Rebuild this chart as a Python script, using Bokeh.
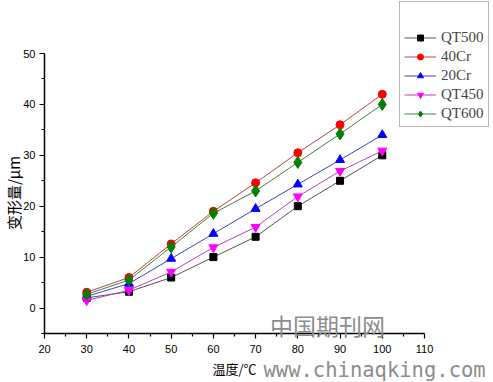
from math import pi
from bokeh.plotting import figure
from bokeh.models import Range1d, FixedTicker, Legend, LegendItem, Label
from bokeh.embed import file_html
from bokeh.resources import INLINE

# ---- data ----
temperature = [30, 40, 50, 60, 70, 80, 90, 100]
qt500 = [2.0, 3.2, 6.0, 10.0, 14.0, 20.0, 25.0, 30.0]
cr40 = [3.1, 6.0, 12.6, 19.0, 24.6, 30.5, 36.0, 42.0]
cr20 = [2.3, 4.8, 9.7, 14.6, 19.5, 24.3, 29.1, 34.0]
qt450 = [1.5, 3.5, 7.1, 11.9, 15.9, 21.9, 26.9, 30.9]
qt600 = [2.7, 5.5, 12.0, 18.6, 23.0, 28.6, 34.2, 40.0]
series_names = ["QT500", "40Cr", "20Cr", "QT450", "QT600"]
x_ticks = [20, 30, 40, 50, 60, 70, 80, 90, 100, 110]
x_minor = [25, 35, 45, 55, 65, 75, 85, 95, 105]
y_ticks = [0, 10, 20, 30, 40, 50]
y_minor = [-5, 5, 15, 25, 35, 45]
x_title = "温度/℃"
y_title = "变形量/μm"

# ---- layout (pixels) ----
W, H = 493, 382
AX_LEFT_PX, AX_TOP_PX = 44, 53          # where x=20 / y=50 sit in the figure
AX_W_PX, AX_H_PX = 380, 280             # axis box size
X0, X1, Y0, Y1 = 20, 110, -5, 50
sx = AX_W_PX / (X1 - X0)
sy = AX_H_PX / (Y1 - Y0)
x_start = X0 - AX_LEFT_PX / sx
x_end = X0 + (W - AX_LEFT_PX) / sx
y_end = Y1 + AX_TOP_PX / sy
y_start = Y1 - (H - AX_TOP_PX) / sy

def px_x(px):   # figure pixel -> data x
    return X0 + (px - AX_LEFT_PX) / sx

def px_y(py):   # figure pixel (from top) -> data y
    return Y1 - (py - AX_TOP_PX) / sy

p = figure(width=W, height=H, min_border=0,
           x_range=Range1d(x_start, x_end), y_range=Range1d(y_start, y_end),
           output_backend="svg", toolbar_location=None)
p.outline_line_color = None
p.xgrid.visible = False
p.ygrid.visible = False
p.background_fill_color = "white"
p.border_fill_color = "white"

p.xaxis.fixed_location = Y0
p.yaxis.fixed_location = X0
p.xaxis.bounds = (X0, X1)
p.yaxis.bounds = (Y0, Y1)

for ax, ticks, minor in ((p.xaxis[0], x_ticks, x_minor), (p.yaxis[0], y_ticks, y_minor)):
    ax.ticker = FixedTicker(ticks=ticks, minor_ticks=minor)
    ax.axis_line_width = 1.5
    ax.axis_line_color = "black"
    ax.major_tick_line_color = "black"
    ax.minor_tick_line_color = "black"
    ax.major_tick_line_width = 1.2
    ax.minor_tick_line_width = 1.2
    ax.major_tick_out = 5
    ax.major_tick_in = 0
    ax.minor_tick_out = 3
    ax.minor_tick_in = 0
    ax.major_label_text_font = "Liberation Sans"
    ax.major_label_text_font_size = "11px"
    ax.major_label_text_color = "black"
p.xaxis.major_label_standoff = 6
p.yaxis.major_label_standoff = 4

styles = [
    (qt500, "black", "#555555", "square", 7),
    (cr40, "red", "#c04040", "circle", 8),
    (cr20, "blue", "#4040d0", "triangle", 9),
    (qt450, "magenta", "#c040c0", "inverted_triangle", 9),
    (qt600, "green", "#408040", "diamond", 12),
]

items = []
for name, (vals, col, lcol, marker, size) in zip(series_names, styles):
    l = p.line(temperature, vals, line_color=lcol, line_width=1)
    s = p.scatter(temperature, vals, marker=marker, size=size,
                  fill_color=col, line_color=col)
    items.append(LegendItem(label=name, renderers=[l, s]))

# axis titles
p.add_layout(Label(x=px_x(234), y=px_y(367.5), text=x_title,
                   text_font="Noto Sans CJK SC", text_font_size="13px",
                   text_align="center", text_baseline="middle", text_color="black"))
p.add_layout(Label(x=px_x(13), y=px_y(192.5), text=y_title, angle=pi / 2,
                   text_font="Noto Sans CJK SC", text_font_size="15px",
                   text_align="center", text_baseline="middle", text_color="black"))

# watermark
p.add_layout(Label(x=px_x(327), y=px_y(324), text="中国期刊网", text_font="Noto Sans CJK SC",
                   text_font_size="23px", text_color="#8c8c8c", text_align="center",
                   text_baseline="middle"))
p.add_layout(Label(x=px_x(263), y=px_y(369), text="www.chinaqking.com",
                   text_font="DejaVu Sans Mono", text_font_size="20.5px",
                   text_color="#8c8c8c", text_baseline="alphabetic"))

legend = Legend(items=items, location=(399, 255), margin=0, padding=4,
                spacing=2, label_height=15, glyph_height=15, glyph_width=32,
                label_standoff=5,
                label_text_font="Liberation Serif", label_text_font_size="15px",
                title="\u2800", title_text_font_size="13px", title_standoff=8,
                border_line_color="#707070", border_line_width=1,
                background_fill_color="white", background_fill_alpha=1)
p.add_layout(legend)

open("out.html", "w").write(file_html(p, INLINE))
